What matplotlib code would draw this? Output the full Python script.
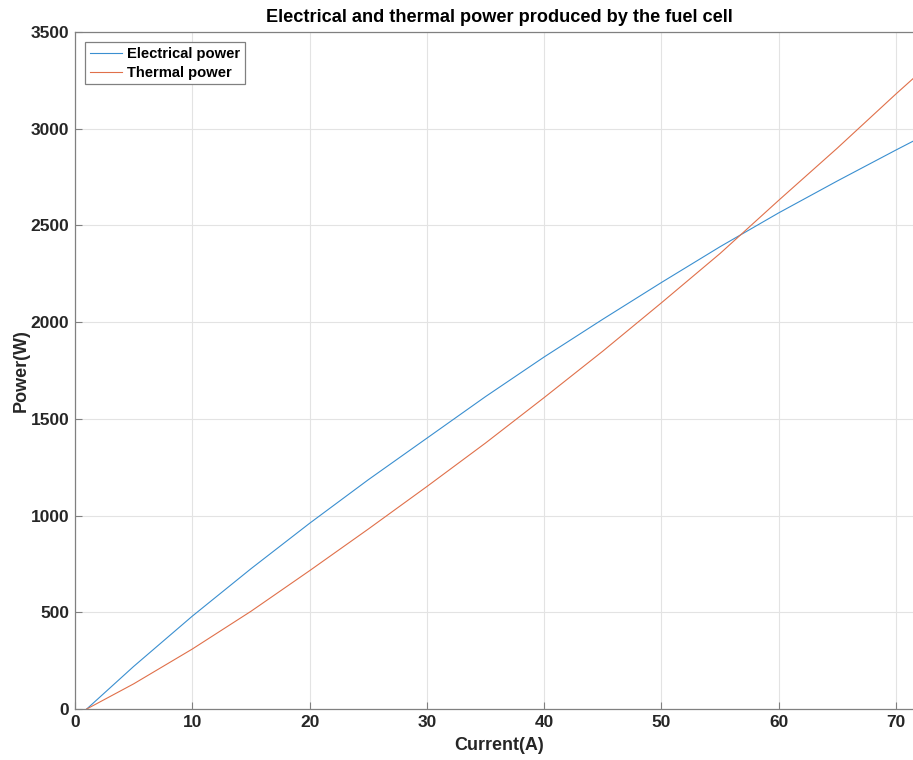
import numpy as np
import matplotlib
matplotlib.use('Agg')
import matplotlib.pyplot as plt

plt.rcParams['font.family'] = ['Liberation Sans', 'DejaVu Sans']
plt.rcParams['font.weight'] = 'bold'

# values (current in A, power in W)
current = [1, 5, 10, 15, 20, 25, 30, 35, 40, 45, 50, 55, 60, 65, 70, 72.3]
electrical = [0, 220, 480, 725, 960, 1185, 1400, 1615, 1820, 2015, 2205, 2390, 2565, 2730, 2890, 2962]
thermal = [0, 130, 310, 505, 715, 930, 1150, 1375, 1610, 1850, 2100, 2355, 2630, 2900, 3180, 3305]

# the picture is cropped a little on the right side of the axes
fig = plt.figure(figsize=(9.13, 7.6), dpi=100)
ax = fig.add_axes([75 / 913, 1 - 709 / 760, (923 - 75) / 913, (709 - 32) / 760])

ax.plot(current, electrical, color='#3a8fd0', lw=0.8, label='Electrical power')
ax.plot(current, thermal, color='#e0704a', lw=0.8, label='Thermal power')

ax.set_xlim(0, 72.3)
ax.set_ylim(0, 3500)
ax.set_xticks(np.arange(0, 71, 10))
ax.set_yticks(np.arange(0, 3501, 500))
ax.grid(True, color='#e3e3e3', lw=0.8)
ax.set_axisbelow(True)
ax.tick_params(direction='in', length=5, labelsize=12.5, color='#808080',
               labelcolor='#262626', pad=4)
for s in ax.spines.values():
    s.set_color('#808080')
    s.set_linewidth(0.9)

ax.set_xlabel('Current(A)', fontsize=13, fontweight='bold', color='#262626', labelpad=5)
ax.set_ylabel('Power(W)', fontsize=13, fontweight='bold', color='#262626', labelpad=1)
ax.set_title('Electrical and thermal power produced by the fuel cell', fontsize=13.1,
             fontweight='bold', pad=7)

leg = ax.legend(loc='upper left', fontsize=10.6, fancybox=False, framealpha=1,
                edgecolor='#808080', borderaxespad=0.7, handlelength=2.2,
                labelspacing=0.35, borderpad=0.3, handletextpad=0.35)
leg.get_frame().set_linewidth(0.9)

fig.savefig('out.png', dpi=100)
